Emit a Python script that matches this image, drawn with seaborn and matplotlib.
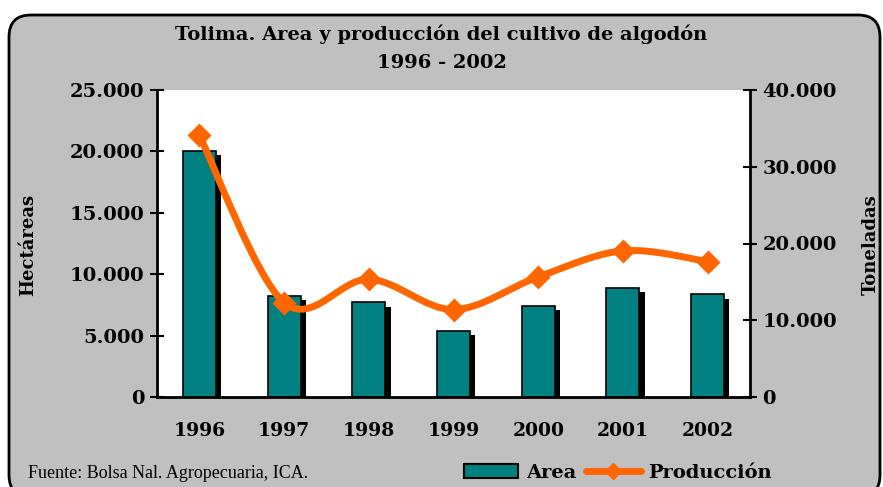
import numpy as np
import pandas as pd
import seaborn as sns
from matplotlib import pyplot as plt
from matplotlib import patheffects as pe
from matplotlib.patches import FancyBboxPatch, Patch, PathPatch
from matplotlib.path import Path
from matplotlib.lines import Line2D
from matplotlib.ticker import FuncFormatter, FixedLocator
from matplotlib.transforms import IdentityTransform

years = ["1996", "1997", "1998", "1999", "2000", "2001", "2002"]
area = [20050, 8200, 7700, 5350, 7400, 8850, 8350]          # hectareas
produccion = [34100, 12300, 15350, 11400, 15650, 19050, 17650]  # toneladas

teal = "#008080"
orange = "#FF6600"
grey = "#C0C0C0"

sns.set_style("white")
plt.rcParams["font.family"] = ["DejaVu Serif"]
plt.rcParams.update({"text.color": "black", "axes.labelcolor": "black",
                     "xtick.color": "black", "ytick.color": "black"})

df = pd.DataFrame({"year": years, "area": area, "prod": produccion})

W, H = 883, 487
fig = plt.figure(figsize=(W / 100, H / 100), dpi=100)
fig.patch.set_facecolor("white")

# rounded grey frame (pixel coords, origin bottom-left)
frame = FancyBboxPatch((9, -10), 871, H - 15 + 10,
                       boxstyle="round,pad=0,rounding_size=22",
                       transform=IdentityTransform(), facecolor=grey, edgecolor="black",
                       linewidth=2, zorder=-10)
fig.patches.append(frame)

ax = fig.add_axes([157 / W, 1 - 397 / H, (750 - 157) / W, (397 - 90) / H])
ax.set_facecolor("white")

sns.barplot(data=df, x="year", y="area", color=teal, width=0.39,
            edgecolor="black", linewidth=1.2, saturation=1, ax=ax)
for bar in ax.patches:
    bar.set_path_effects([pe.SimplePatchShadow(offset=(3.8, -3), shadow_rgbFace="black", alpha=1),
                          pe.Normal()])

ax.set_xlim(-0.5, len(years) - 0.5)
ax.set_ylim(0, 25000)
ax.set_yticks(np.arange(0, 25001, 5000))

ax2 = ax.twinx()
ax2.set_ylim(0, 40000)
ax2.set_yticks(np.arange(0, 40001, 10000))

# smoothed line (Catmull-Rom style bezier through the points)
x = np.arange(len(years), dtype=float)
y = np.array(produccion, dtype=float)
verts = [(x[0], y[0])]
codes = [Path.MOVETO]
for i in range(len(x) - 1):
    p0 = (x[i - 1], y[i - 1]) if i > 0 else (x[i], y[i])
    p3 = (x[i + 2], y[i + 2]) if i + 2 < len(x) else (x[i + 1], y[i + 1])
    c1 = (x[i] + (x[i + 1] - p0[0]) / 6, y[i] + (y[i + 1] - p0[1]) / 6)
    c2 = (x[i + 1] - (p3[0] - x[i]) / 6, y[i + 1] - (p3[1] - y[i]) / 6)
    verts += [c1, c2, (x[i + 1], y[i + 1])]
    codes += [Path.CURVE4] * 3
ax2.add_patch(PathPatch(Path(verts, codes), facecolor="none", edgecolor=orange,
                        linewidth=5, capstyle="round", joinstyle="round", zorder=3))
sns.scatterplot(x=x, y=y, marker="D", s=150, color=orange, edgecolor=orange,
                linewidth=0, zorder=4, ax=ax2)

fmt = FuncFormatter(lambda v, p: "0" if v == 0 else f"{v:,.0f}".replace(",", "."))
tick_font = dict(family="DejaVu Serif", weight="bold", size=14)

for a in (ax, ax2):
    for s in a.spines.values():
        s.set_visible(False)
    a.yaxis.set_major_formatter(fmt)
    a.tick_params(axis="y", direction="inout", length=10, width=1.5, color="black",
                  labelcolor="black", pad=4)
    for lab in a.get_yticklabels():
        lab.set_fontproperties(tick_font)

ax.spines["left"].set_visible(True)
ax.spines["bottom"].set_visible(True)
ax2.spines["right"].set_visible(True)
for s in (ax.spines["left"], ax.spines["bottom"], ax2.spines["right"]):
    s.set_linewidth(2)
    s.set_color("black")

ax.xaxis.set_minor_locator(FixedLocator(np.arange(-0.5, len(years), 1.0)))
ax.tick_params(axis="x", which="major", length=0, pad=18, labelcolor="black")
ax.tick_params(axis="x", which="minor", direction="inout", length=10, width=1.5, color="black")
for lab in ax.get_xticklabels():
    lab.set_fontproperties(dict(family="DejaVu Serif", weight="bold", size=13.5))
ax.tick_params(axis="y", left=True)
ax2.tick_params(axis="y", right=True)

ax.set_xlabel("")
ax.set_ylabel("")
ax2.set_ylabel("")
fig.text(28 / W, 1 - 245 / H, "Hectáreas", rotation=90, ha="center", va="center",
         fontsize=13, fontweight="bold", color="black")
fig.text(871 / W, 1 - 245 / H, "Toneladas", rotation=90, ha="center", va="center",
         fontsize=13, fontweight="bold", color="black")

fig.text(0.5, 1 - 34 / H, "Tolima. Area y producción del cultivo de algodón", ha="center",
         va="center", fontsize=14, fontweight="bold", family="DejaVu Serif", color="black")
fig.text(0.5, 1 - 63 / H, "1996 - 2002", ha="center", va="center",
         fontsize=14, fontweight="bold", family="DejaVu Serif", color="black")
fig.text(28 / W, 1 - 474 / H, "Fuente: Bolsa Nal. Agropecuaria, ICA.", ha="left",
         va="center", fontsize=13, family="Liberation Serif", color="black")

handles = [Patch(facecolor=teal, edgecolor="black", linewidth=1.5, label="Area"),
           Line2D([], [], color=orange, linewidth=5, marker="D", markersize=8, label="Producción")]
fig.legend(handles=handles, loc="center", bbox_to_anchor=(618 / W, 1 - 473 / H), ncol=2,
           frameon=False, handlelength=2.8, handletextpad=0.4, columnspacing=0.5,
           labelcolor="black", prop=dict(family="DejaVu Serif", weight="bold", size=14))

fig.savefig("out.png", dpi=100)
